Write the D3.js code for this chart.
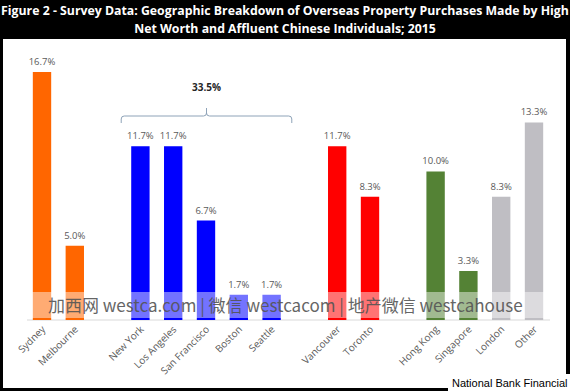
<!DOCTYPE html>
<html>
<head>
<meta charset="utf-8">
<script src="https://cdn.jsdelivr.net/npm/d3@7"></script>
<style>
  body { margin: 0; background: #000; }
  svg { display: block; }
</style>
</head>
<body>
<div id="viz-container"></div>
<script>
// survey data
let cities = ["Sydney", "Melbourne", "New York", "Los Angeles", "San Francisco", "Boston", "Seattle",
              "Vancouver", "Toronto", "Hong Kong", "Singapore", "London", "Other"];
let shares = [16.7, 5.0, 11.7, 11.7, 6.7, 1.7, 1.7, 11.7, 8.3, 10.0, 3.3, 8.3, 13.3];
let regions = ["Australia", "Australia", "US", "US", "US", "US", "US",
               "Canada", "Canada", "Asia", "Asia", "Other", "Other"];
// an empty slot goes in front of these cities
let gapBefore = ["New York", "Vancouver", "Hong Kong"];

let titleLines = [
  "Figure 2 - Survey Data: Geographic Breakdown of Overseas Property Purchases Made by High",
  "Net Worth and Affluent Chinese Individuals; 2015"
];
let watermark = "加西网 westca.com | 微信 westcacom | 地产微信 westcahouse";
let source = "National Bank Financial";

let regionColor = {
  "Australia": "#ff6600",
  "US": "#0000ff",
  "Canada": "#ff0000",
  "Asia": "#548235",
  "Other": "#bfbec3"
};

let W = 570, H = 391;

let viz = d3.select("#viz-container")
  .append("svg")
    .attr("width", W)
    .attr("height", H)
  ;

// black frame with white plot panel
viz.append("rect").attr("width", W).attr("height", H).attr("fill", "#000");
viz.append("rect")
  .attr("x", 3).attr("y", 39)
  .attr("width", 563).attr("height", 349)
  .attr("fill", "#fff");

// title
viz.selectAll("text.title").data(titleLines).enter()
  .append("text")
    .attr("class", "title")
    .attr("x", 285)
    .attr("y", (d, i) => 15 + i * 18)
    .attr("text-anchor", "middle")
    .style("font-family", "'Open Sans', sans-serif")
    .style("font-weight", "bold")
    .style("font-size", "12.3px")
    .style("fill", "#fff")
    .text(d => d);

// x slots, with spacer slots between groups
let slots = [];
cities.forEach(function(c, i){
  if(gapBefore.includes(c)){
    slots.push("gap" + i);
  }
  slots.push(c);
});

let x = d3.scaleBand()
  .domain(slots)
  .range([25.6, 550.4])
  .paddingInner(0.44)
  .paddingOuter(0.22);

let y = d3.scaleLinear()
  .domain([0, 16.7])
  .range([320, 72]);

let data = cities.map((c, i) => ({city: c, value: shares[i], region: regions[i]}));

// baseline
viz.append("line")
  .attr("x1", 27).attr("x2", 550)
  .attr("y1", y(0)).attr("y2", y(0))
  .attr("stroke", "#d9d9d9")
  .attr("stroke-width", 1);

viz.selectAll("rect.bar").data(data).enter()
  .append("rect")
    .attr("class", "bar")
    .attr("x", d => x(d.city))
    .attr("y", d => y(d.value))
    .attr("width", x.bandwidth())
    .attr("height", d => y(0) - y(d.value))
    .attr("fill", d => regionColor[d.region]);

viz.selectAll("text.val").data(data).enter()
  .append("text")
    .attr("class", "val")
    .attr("x", d => x(d.city) + x.bandwidth() / 2)
    .attr("y", d => y(d.value) - 7)
    .attr("text-anchor", "middle")
    .style("font-family", "'Open Sans', sans-serif")
    .style("font-size", "9.5px")
    .style("fill", "#595959")
    .text(d => d.value.toFixed(1) + "%");

// category labels, rotated
viz.selectAll("text.cat").data(data).enter()
  .append("text")
    .attr("class", "cat")
    .attr("transform", d => "translate(" + (x(d.city) + x.bandwidth() / 2 + 4) + "," + (y(0) + 10) + ") rotate(-45)")
    .attr("text-anchor", "end")
    .style("font-family", "'Open Sans', sans-serif")
    .style("font-size", "10px")
    .style("fill", "#595959")
    .text(d => d.city);

// bracket over the US cities
let us = data.filter(d => d.region == "US");
let bx0 = x(us[0].city) - 10;
let bx1 = x(us[us.length - 1].city) + x.bandwidth() + 11;
let by = 116, r = 3;
let bmid = (bx0 + bx1) / 2;
let path = d3.path();
path.moveTo(bx0, by + 7);
path.lineTo(bx0, by + r);
path.quadraticCurveTo(bx0, by, bx0 + r, by);
path.lineTo(bmid - r, by);
path.quadraticCurveTo(bmid, by, bmid, by - r);
path.lineTo(bmid, by - 8);
path.moveTo(bmid, by - r);
path.quadraticCurveTo(bmid, by, bmid + r, by);
path.lineTo(bx1 - r, by);
path.quadraticCurveTo(bx1, by, bx1, by + r);
path.lineTo(bx1, by + 7);
viz.append("path")
  .attr("d", path.toString())
  .attr("fill", "none")
  .attr("stroke", "#8ea3b8")
  .attr("stroke-width", 1);

viz.append("text")
  .attr("x", bmid)
  .attr("y", 91)
  .attr("text-anchor", "middle")
  .style("font-family", "'Open Sans', sans-serif")
  .style("font-weight", "bold")
  .style("font-size", "10px")
  .style("fill", "#262626")
  .text(d3.sum(us, d => d.value).toFixed(1) + "%");

// watermark band
viz.append("rect")
  .attr("x", 28).attr("y", 292)
  .attr("width", 520).attr("height", 26)
  .attr("fill", "#fff")
  .attr("opacity", 0.45);
viz.append("text")
  .attr("x", 48)
  .attr("y", 312)
  .style("font-family", "'Noto Sans CJK SC', sans-serif")
  .style("font-size", "17px")
  .style("fill", "#555")
  .style("opacity", 0.9)
  .text(watermark);

// source box
viz.append("rect")
  .attr("x", 448).attr("y", 374)
  .attr("width", 122).attr("height", 17)
  .attr("fill", "#fff");
viz.append("text")
  .attr("x", 452)
  .attr("y", 387)
  .style("font-family", "'Liberation Sans', Arial, sans-serif")
  .style("font-size", "11px")
  .style("fill", "#000")
  .text(source);
</script>
</body>
</html>
